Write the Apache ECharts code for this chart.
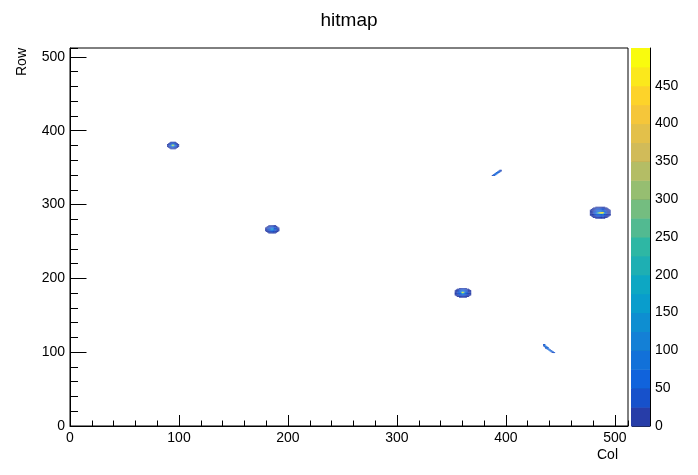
<!DOCTYPE html>
<html><head><meta charset="utf-8">
<script src="https://cdn.jsdelivr.net/npm/echarts@6/dist/echarts.min.js"></script>
<style>html,body{margin:0;padding:0;background:#fff}#c{width:698px;height:475px}</style>
</head><body><div id="c"></div>
<script>
// ---- data ----
const xTicks = [0, 100, 200, 300, 400, 500];
const yTicks = [0, 100, 200, 300, 400, 500];
const zTicks = [0, 50, 100, 150, 200, 250, 300, 350, 400, 450];
const nBins = 512;
const zMax = 500;
const nLevels = 20;

// each blob: origin [first column, top row], then rows from top to bottom
const blobAOrigin = [89, 384];
const blobA = [
  [0,0,0,8,12,14,10,6,0,0,0],
  [0,0,10,22,30,32,28,20,10,0,0],
  [0,10,24,36,44,48,42,34,20,8,0],
  [6,20,34,48,90,160,80,46,30,16,6],
  [10,24,40,60,280,470,250,58,36,20,10],
  [8,22,38,58,210,440,190,54,34,18,12],
  [6,18,32,46,70,110,64,42,28,14,6],
  [0,12,24,34,40,44,38,30,18,8,0],
  [0,0,12,20,26,28,24,16,10,0,0],
  [0,0,0,6,10,12,10,6,0,0,0]
];

const blobBOrigin = [179, 271];
const blobB = [
  [0,0,0,6,10,12,14,12,10,6,0,0,0],
  [0,0,8,14,20,24,26,24,20,14,8,0,0],
  [0,8,16,24,32,38,40,38,32,24,16,8,0],
  [6,12,22,34,42,50,54,50,42,34,22,12,6],
  [6,14,26,38,48,80,130,76,48,38,26,14,6],
  [8,16,28,40,60,170,240,160,58,40,28,16,8],
  [6,14,26,38,50,96,150,90,48,38,26,14,6],
  [6,12,22,34,42,50,54,50,42,34,22,12,6],
  [0,8,16,24,32,38,40,38,32,24,16,8,0],
  [0,0,8,14,20,24,26,24,20,14,8,0,0],
  [0,0,0,6,10,12,14,12,10,6,0,0,0]
];

const blobCOrigin = [353, 186];
const blobC = [
  [0,0,0,0,8,10,12,14,12,10,8,0,0,0,0],
  [0,0,6,12,16,22,26,28,26,22,16,10,6,0,0],
  [0,6,12,20,28,34,38,40,38,34,28,20,12,6,0],
  [4,10,18,28,36,44,50,52,50,44,36,28,18,10,4],
  [6,14,24,34,44,56,90,120,88,54,44,32,22,12,6],
  [8,16,26,38,50,80,230,350,210,70,48,36,24,14,6],
  [8,18,28,40,52,90,320,490,300,80,50,38,26,14,8],
  [8,16,26,38,50,74,180,270,160,64,48,36,24,14,6],
  [6,14,24,34,44,54,70,80,68,52,42,32,22,12,6],
  [4,10,18,28,36,42,48,50,46,40,34,26,16,8,4],
  [0,6,12,20,26,32,36,38,34,30,24,18,10,6,0],
  [0,0,6,10,14,20,22,24,22,18,14,10,6,0,0],
  [0,0,0,0,6,8,10,12,10,8,6,0,0,0,0]
];

const blobDOrigin = [477, 296];
const blobD = [
  [0,0,0,0,0,6,8,10,12,14,12,10,8,6,0,0,0,0,0],
  [0,0,0,6,10,14,18,20,22,24,22,20,18,14,10,6,0,0,0],
  [0,0,6,10,16,22,26,30,32,34,32,30,26,22,16,10,6,0,0],
  [0,4,10,16,22,28,34,38,42,44,42,38,34,28,22,16,10,4,0],
  [4,8,14,20,28,36,42,48,52,54,52,48,42,36,28,20,14,8,4],
  [4,10,16,24,32,42,50,56,60,64,60,56,50,42,32,24,16,10,4],
  [6,12,18,28,38,48,58,70,90,100,96,80,62,48,38,28,18,12,6],
  [6,12,20,30,40,52,90,170,260,330,380,420,300,80,40,30,20,12,6],
  [6,12,20,30,40,60,190,320,410,460,480,490,470,170,42,30,20,12,6],
  [6,12,18,28,38,52,80,130,190,250,290,320,200,70,40,28,18,12,6],
  [4,10,16,24,34,44,52,60,66,70,66,60,52,44,34,24,16,10,4],
  [4,8,14,20,28,36,42,48,52,54,52,48,42,36,28,20,14,8,4],
  [0,4,10,16,22,28,34,38,42,44,42,38,34,28,22,16,10,4,0],
  [0,0,6,10,16,22,26,30,32,34,32,30,26,22,16,10,6,0,0],
  [0,0,0,6,10,14,18,20,22,24,22,20,18,14,10,6,0,0,0],
  [0,0,0,0,0,6,8,10,12,14,12,10,8,6,0,0,0,0,0]
];

const streakEOrigin = [387, 346];
const streakE = [
  [0,0,0,0,0,0,0,20,30],
  [0,0,0,0,0,0,30,60,20],
  [0,0,0,0,0,40,70,30,0],
  [0,0,0,0,50,80,40,0,0],
  [0,0,0,40,90,60,0,0,0],
  [0,0,30,80,60,0,0,0,0],
  [0,30,70,50,0,0,0,0,0],
  [20,50,30,0,0,0,0,0,0]
];

const streakFOrigin = [434, 110];
const streakF = [
  [40,30,0,0,0,0,0,0,0,0,0],
  [60,80,0,0,0,0,0,0,0,0,0],
  [20,90,70,0,0,0,0,0,0,0,0],
  [0,40,100,60,0,0,0,0,0,0,0],
  [0,0,70,90,30,0,0,0,0,0,0],
  [0,0,20,80,70,0,0,0,0,0,0],
  [0,0,0,30,90,60,0,0,0,0,0],
  [0,0,0,0,50,90,40,0,0,0,0],
  [0,0,0,0,0,60,80,30,0,0,0],
  [0,0,0,0,0,0,50,80,40,0,0],
  [0,0,0,0,0,0,0,40,70,50,0],
  [0,0,0,0,0,0,0,0,20,40,30]
];

// ---- build cells ----
const blobs = [
  [blobAOrigin, blobA], [blobBOrigin, blobB], [blobCOrigin, blobC],
  [blobDOrigin, blobD], [streakEOrigin, streakE], [streakFOrigin, streakF]
];
const cells = [];
blobs.forEach(([o, g]) => {
  g.forEach((row, i) => row.forEach((v, j) => {
    if (v > 0) cells.push([o[0] + j, o[1] - i, v]);
  }));
});

// ---- ROOT kBird palette ----
const st = [0, 0.125, 0.25, 0.375, 0.5, 0.625, 0.75, 0.875, 1];
const pr = [0.2082, 0.0592, 0.0780, 0.0232, 0.1802, 0.5301, 0.8186, 0.9956, 0.9764];
const pg = [0.1664, 0.3599, 0.5041, 0.6419, 0.7178, 0.7492, 0.7328, 0.7862, 0.9832];
const pb = [0.5293, 0.8684, 0.8385, 0.7914, 0.6425, 0.4662, 0.3499, 0.1968, 0.0539];
function bird(f) {
  let k = 0;
  while (k < st.length - 2 && f > st[k + 1]) k++;
  const t = (f - st[k]) / (st[k + 1] - st[k]);
  const c = a => Math.round(255 * (a[k] + (a[k + 1] - a[k]) * t));
  return 'rgb(' + c(pr) + ',' + c(pg) + ',' + c(pb) + ')';
}
const step = zMax / nLevels;
const pieces = [];
const cbData = [];
for (let i = 0; i < nLevels; i++) {
  const idx = Math.floor((i + 0.99) * 255 / nLevels);
  const col = bird(Math.min(idx, 254) / 254);
  const p = { gte: i * step, color: col };
  if (i < nLevels - 1) p.lt = (i + 1) * step; else p.lte = zMax + 1e6;
  pieces.push(p);
  cbData.push([0.5, i * step, i * step + step / 2, (i + 1) * step]);
}

const FONT = 'Liberation Sans, Arial, Helvetica, sans-serif';
const chart = echarts.init(document.getElementById('c'), null, { renderer: 'canvas' });
chart.setOption({
  animation: false,
  backgroundColor: '#fff',
  textStyle: { fontFamily: FONT },
  title: {
    text: 'hitmap', left: 'center', top: 6,
    textStyle: { fontFamily: FONT, fontSize: 19, fontWeight: 'normal', color: '#000' }
  },
  grid: [
    { left: 70, top: 48, width: 558, height: 378, show: true, borderColor: '#000', borderWidth: 1, backgroundColor: 'transparent' },
    { left: 631, top: 48, width: 19, height: 378, show: false }
  ],
  visualMap: {
    type: 'piecewise', show: false, dimension: 2, seriesIndex: [0, 1], pieces: pieces
  },
  xAxis: [
    { type: 'value', gridIndex: 0, min: 0, max: nBins, interval: 100,
      axisLine: { show: true, onZero: false, lineStyle: { color: '#000' } },
      axisTick: { show: true, inside: true, length: 11, lineStyle: { color: '#000' } },
      axisLabel: { show: true, margin: 5, fontSize: 14, color: '#000', fontFamily: FONT, showMaxLabel: false,
        formatter: v => xTicks.includes(v) ? String(v) : '' },
      splitLine: { show: false } },
    { type: 'value', gridIndex: 0, min: 0, max: nBins, interval: 20,
      axisLine: { show: false },
      axisTick: { show: true, inside: true, length: 5.5, lineStyle: { color: '#000' } },
      axisLabel: { show: false }, splitLine: { show: false }, position: 'bottom' },
    { type: 'value', gridIndex: 1, min: 0, max: 1, show: false }
  ],
  yAxis: [
    { type: 'value', gridIndex: 0, min: 0, max: nBins, interval: 100,
      axisLine: { show: true, onZero: false, lineStyle: { color: '#000' } },
      axisTick: { show: true, inside: true, length: 16.5, lineStyle: { color: '#000' } },
      axisLabel: { show: true, margin: 5, fontSize: 14, color: '#000', fontFamily: FONT, showMaxLabel: false,
        formatter: v => yTicks.includes(v) ? String(v) : '' },
      splitLine: { show: false } },
    { type: 'value', gridIndex: 0, min: 0, max: nBins, interval: 20,
      axisLine: { show: false },
      axisTick: { show: true, inside: true, length: 8, lineStyle: { color: '#000' } },
      axisLabel: { show: false }, splitLine: { show: false }, position: 'left' },
    { type: 'value', gridIndex: 1, min: 0, max: zMax, interval: 50, position: 'right',
      axisLine: { show: true, onZero: false, lineStyle: { color: '#000' } },
      axisTick: { show: true, inside: true, length: 18, lineStyle: { color: '#1a1a1a' } },
      axisLabel: { show: true, margin: 5, fontSize: 14, color: '#000', fontFamily: FONT, showMaxLabel: false,
        formatter: v => zTicks.includes(v) ? String(v) : '' },
      splitLine: { show: false } }
  ],
  series: [
    { type: 'custom', xAxisIndex: 0, yAxisIndex: 0, data: cells, z: 1,
      renderItem: function (params, api) {
        const p = api.coord([api.value(0), api.value(1)]);
        const s = api.size([1, 1]);
        return { type: 'rect', shape: { x: p[0], y: p[1] - s[1], width: s[0] + 0.15, height: s[1] + 0.15 },
          style: { fill: api.visual('color') } };
      } },
    { type: 'custom', xAxisIndex: 2, yAxisIndex: 2, data: cbData, z: 1,
      renderItem: function (params, api) {
        const p1 = api.coord([0, api.value(1)]);
        const p2 = api.coord([1, api.value(3)]);
        return { type: 'rect', shape: { x: p1[0], y: p2[1], width: p2[0] - p1[0], height: p1[1] - p2[1] + 0.5 },
          style: { fill: api.visual('color') } };
      } }
  ],
  graphic: [
    { type: 'text', left: 597, top: 448, style: { text: 'Col', fontSize: 14, fill: '#000', fontFamily: FONT } },
    { type: 'text', x: 22, y: 48, rotation: Math.PI / 2,
      style: { text: 'Row', fontSize: 14, fill: '#000', fontFamily: FONT, textAlign: 'right', textVerticalAlign: 'middle' } }
  ]
});
</script>
</body></html>
